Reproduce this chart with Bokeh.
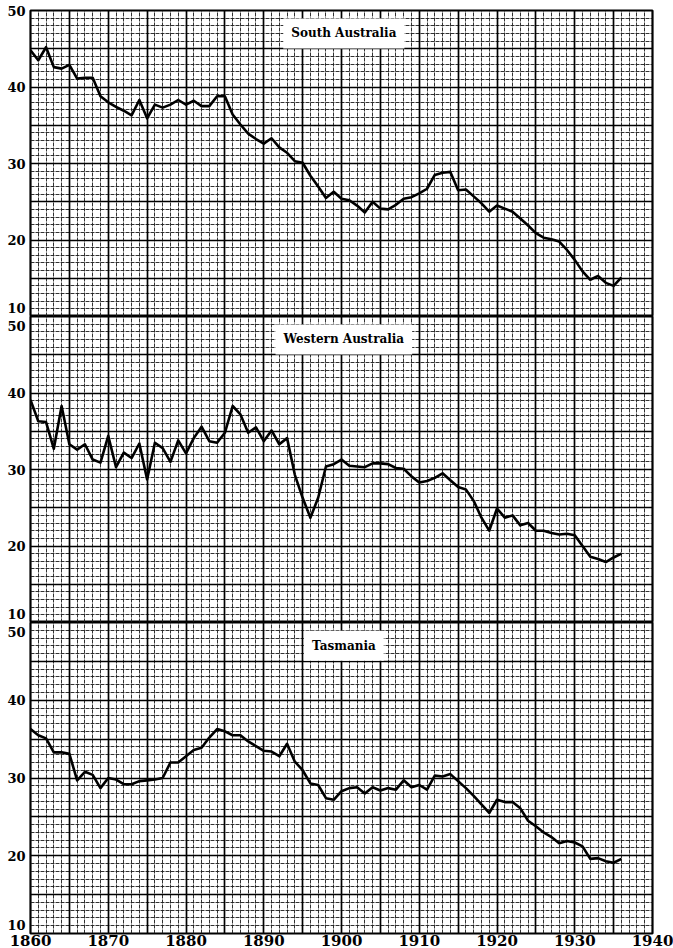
from bokeh.plotting import figure
from bokeh.layouts import column
from bokeh.models import FixedTicker, Label, Grid
from bokeh.embed import file_html
from bokeh.resources import INLINE

years = list(range(1860, 1937))

south_australia = [
    44.8, 43.5, 45.2, 42.6, 42.4, 42.9, 41.1, 41.2, 41.2, 38.8,
    38.0, 37.4, 36.9, 36.3, 38.3, 35.9, 37.7, 37.3, 37.7, 38.3,
    37.7, 38.2, 37.5, 37.5, 38.8, 38.8, 36.4, 35.1, 33.9, 33.2,
    32.6, 33.3, 32.1, 31.4, 30.3, 30.1, 28.4, 27.0, 25.5, 26.3,
    25.4, 25.2, 24.5, 23.6, 25.0, 24.1, 24.0, 24.6, 25.4, 25.6,
    26.1, 26.7, 28.5, 28.8, 28.9, 26.5, 26.6, 25.7, 24.8, 23.7,
    24.5, 24.1, 23.7, 22.8, 21.9, 20.9, 20.3, 20.1, 19.8, 18.7,
    17.4, 15.9, 14.8, 15.3, 14.4, 14.0, 15.1,
]

western_australia = [
    39.1, 36.3, 36.2, 32.7, 38.3, 33.3, 32.6, 33.3, 31.3, 30.9,
    34.4, 30.3, 32.2, 31.5, 33.4, 28.7, 33.5, 32.8, 31.0, 33.8,
    32.1, 34.1, 35.6, 33.7, 33.5, 34.8, 38.3, 37.2, 34.8, 35.5,
    33.7, 35.1, 33.3, 34.1, 29.3, 26.3, 23.7, 26.3, 30.4, 30.7,
    31.3, 30.5, 30.4, 30.3, 30.8, 30.8, 30.7, 30.2, 30.1, 29.1,
    28.3, 28.5, 28.9, 29.5, 28.6, 27.7, 27.4, 25.9, 23.7, 22.0,
    24.9, 23.7, 24.0, 22.7, 23.0, 22.0, 22.0, 21.7, 21.5, 21.6,
    21.4, 20.0, 18.6, 18.3, 17.9, 18.5, 19.0,
]

tasmania = [
    36.3, 35.5, 35.1, 33.3, 33.3, 33.1, 29.7, 30.8, 30.4, 28.7,
    30.0, 29.8, 29.2, 29.2, 29.6, 29.7, 29.8, 30.0, 32.0, 32.0,
    32.8, 33.6, 33.9, 35.2, 36.3, 36.0, 35.5, 35.5, 34.7, 34.1,
    33.5, 33.4, 32.8, 34.4, 32.1, 31.0, 29.3, 29.1, 27.4, 27.2,
    28.3, 28.7, 28.8, 28.0, 28.8, 28.4, 28.7, 28.5, 29.7, 28.8,
    29.1, 28.5, 30.3, 30.2, 30.5, 29.6, 28.7, 27.7, 26.6, 25.5,
    27.2, 26.9, 26.9, 26.1, 24.5, 23.8, 23.0, 22.4, 21.6, 21.9,
    21.7, 21.2, 19.6, 19.7, 19.3, 19.1, 19.6,
]

panel_titles = ["South Australia", "Western Australia", "Tasmania"]
x_tick_years = list(range(1860, 1941, 10))
y_tick_values = [10, 20, 30, 40, 50]

FONT = "DejaVu Serif"
W = 673
FRAME_H = 306
X0, X1 = 1860, 1940
Y0, Y1 = 10, 50


def make_panel(series, title, top_border, bottom_extra, first, last):
    p = figure(
        width=W, height=FRAME_H + top_border + bottom_extra,
        x_range=(X0, X1), y_range=(Y0, Y1),
        output_backend="svg", toolbar_location=None,
        x_axis_location="below" if last else None,
        y_axis_location="left",
        min_border_left=30, min_border_right=21,
        min_border_top=top_border, min_border_bottom=0,
    )
    p.grid.visible = False
    p.background_fill_color = "white"
    p.border_fill_color = "white"
    p.outline_line_color = "black"
    p.outline_line_width = 2.2

    # graph-paper grid: every year / unit dashed, every 5 solid
    minor_x = Grid(dimension=0, ticker=FixedTicker(ticks=list(range(X0, X1 + 1))),
                   grid_line_color="#1c1c1c", grid_line_width=1.0,
                   grid_line_dash="4 1", grid_line_alpha=0.9)
    minor_y = Grid(dimension=1, ticker=FixedTicker(ticks=list(range(Y0, Y1 + 1))),
                   grid_line_color="#1c1c1c", grid_line_width=1.0,
                   grid_line_dash="4 1", grid_line_alpha=0.9)
    major_x = Grid(dimension=0, ticker=FixedTicker(ticks=list(range(X0, X1 + 1, 5))),
                   grid_line_color="black", grid_line_width=1.7)
    major_y = Grid(dimension=1, ticker=FixedTicker(ticks=list(range(Y0, Y1 + 1, 5))),
                   grid_line_color="black", grid_line_width=1.7)
    for g in (minor_x, minor_y, major_x, major_y):
        p.add_layout(g, "center")

    p.line(years, series, line_color="black", line_width=2.6, line_join="round")

    # title box
    p.add_layout(Label(
        x=1900.3, y=47, text=title, text_align="center", text_baseline="middle",
        text_font=FONT, text_font_style="bold", text_font_size="12px",
        text_color="black", background_fill_color="white",
        padding=dict(left=8, right=8, top=8, bottom=8),
    ))

    # y axis: end labels sit just inside the panel (10 above its line, 50 below)
    low_pos = Y0 + 1.1
    high_pos = Y1 if first else Y1 - 1.2
    ax_y = p.yaxis[0]
    ax_y.ticker = FixedTicker(ticks=[low_pos] + y_tick_values[1:-1] + [high_pos])
    ax_y.major_label_overrides = {low_pos: str(y_tick_values[0]),
                                  high_pos: str(y_tick_values[-1])}
    ax_y.major_tick_line_color = None
    ax_y.minor_tick_line_color = None
    ax_y.axis_line_color = None
    ax_y.major_tick_out = 0
    ax_y.major_tick_in = 0
    ax_y.major_label_standoff = 5
    ax_y.major_label_text_font = FONT
    ax_y.major_label_text_font_style = "bold"
    ax_y.major_label_text_font_size = "13px"
    ax_y.major_label_text_color = "black"

    if last:
        ax = p.xaxis[0]
        ax.ticker = FixedTicker(ticks=x_tick_years)
        ax.major_tick_line_color = None
        ax.minor_tick_line_color = None
        ax.axis_line_color = None
        ax.major_tick_out = 0
        ax.major_tick_in = 0
        ax.major_label_standoff = 1
        ax.major_label_text_font = FONT
        ax.major_label_text_font_style = "bold"
        ax.major_label_text_font_size = "15px"
        ax.major_label_text_color = "black"
    return p


p1 = make_panel(south_australia, panel_titles[0], 10, 0, True, False)
p2 = make_panel(western_australia, panel_titles[1], 0, 0, False, False)
p3 = make_panel(tasmania, panel_titles[2], 0, 20, False, True)

layout = column(p1, p2, p3, spacing=0)

open("out.html", "w").write(file_html(layout, INLINE))
